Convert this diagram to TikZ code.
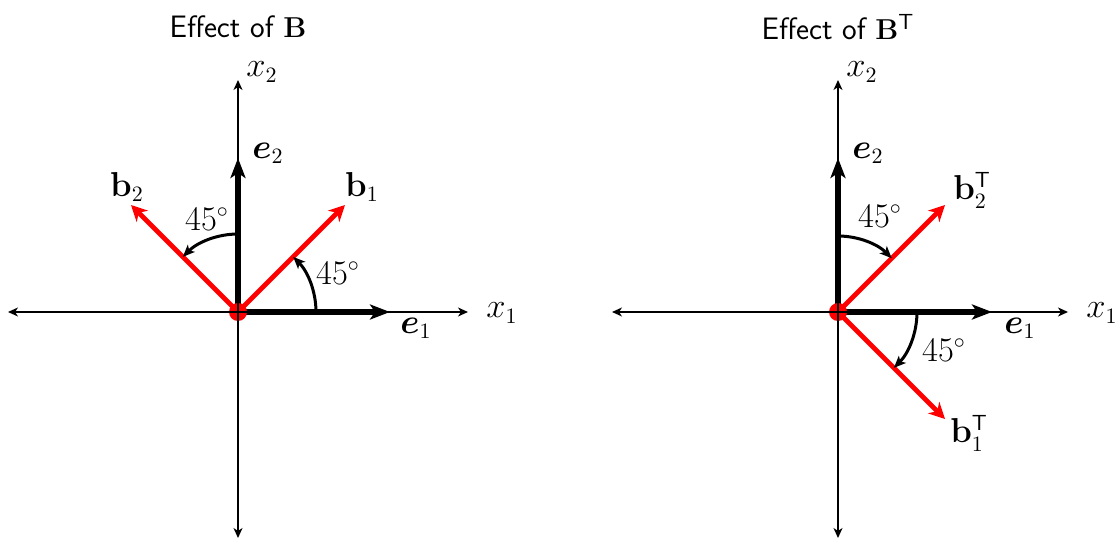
\documentclass[tikz,border=0pt]{standalone}
\usepackage{bm}
\usetikzlibrary{arrows.meta}
\begin{document}
\begin{tikzpicture}[x=0.5pt,y=-0.5pt,
  axis/.style={line width=0.75pt,{Stealth[length=5pt,width=4.5pt,inset=1.5pt]}-{Stealth[length=5pt,width=4.5pt,inset=1.5pt]}},
  evec/.style={line width=2.8pt,-{Stealth[length=10pt,width=7.5pt,inset=2.5pt]}},
  bvec/.style={line width=2.4pt,red,-{Stealth[length=8pt,width=8pt,inset=2.5pt]}},
  angarc/.style={line width=1.5pt,-{Stealth[length=6pt,width=5pt,inset=1.5pt]}},
  origin/.style={red},
  lbl/.style={font=\fontsize{16}{19}\selectfont},
  ttl/.style={font=\fontsize{15.5}{19}\selectfont\sffamily},
  every node/.style={inner sep=1pt}]
\useasboundingbox (0,0) rectangle (1117,539);
% titles
\node[ttl] (t1) at (238,27) {Effect of $\mathbf{B}$};
\node[ttl] (t2) at (838,27) {Effect of $\mathbf{B}^{\mathsf{T}}$};
%%%% left panel
\coordinate (O1) at (238,312);
\coordinate (xl1) at (8,312); \coordinate (xr1) at (468,312);
\coordinate (yb1) at (238,538); \coordinate (yt1) at (238,80);
\coordinate (e1L) at (390,312); \coordinate (e2L) at (238,158);
\coordinate (b1L) at (345,205); \coordinate (b2L) at (131,205);
\draw[bvec] (O1) -- (b1L);
\draw[bvec] (O1) -- (b2L);
\draw[evec] (O1) -- (e1L);
\draw[evec] (O1) -- (e2L);
\fill[origin] (O1) circle (4.5pt);
\draw[axis] (xl1) -- (xr1);
\draw[axis] (yb1) -- (yt1);
\draw[angarc] ([xshift=39pt]O1) arc[start angle=0,end angle=45,radius=39pt];
\draw[angarc] ([yshift=39pt]O1) arc[start angle=90,end angle=135,radius=39pt];
\node[lbl] (a1) at (338,273) {$45^\circ$};
\node[lbl] (a2) at (207,219) {$45^\circ$};
\node[lbl] (x2L) at (262,72) {$x_2$};
\node[lbl] (x1L) at (502,313) {$x_1$};
\node[lbl] (e2Ll) at (268,153) {$\bm{e}_2$};
\node[lbl] (e1Ll) at (416,328) {$\bm{e}_1$};
\node[lbl] (b1Ll) at (362,187) {$\mathbf{b}_1$};
\node[lbl] (b2Ll) at (127,187) {$\mathbf{b}_2$};
%%%% right panel
\coordinate (O2) at (838,312);
\coordinate (xl2) at (612,312); \coordinate (xr2) at (1068,312);
\coordinate (yb2) at (838,538); \coordinate (yt2) at (838,80);
\coordinate (e1R) at (992,312); \coordinate (e2R) at (838,158);
\coordinate (b2R) at (945,205); \coordinate (b1R) at (945,419);
\draw[bvec] (O2) -- (b2R);
\draw[bvec] (O2) -- (b1R);
\draw[evec] (O2) -- (e1R);
\draw[evec] (O2) -- (e2R);
\fill[origin] (O2) circle (4.5pt);
\draw[axis] (xl2) -- (xr2);
\draw[axis] (yb2) -- (yt2);
\draw[angarc] ([yshift=38pt]O2) arc[start angle=90,end angle=45,radius=38pt];
\draw[angarc] ([xshift=39.5pt]O2) arc[start angle=0,end angle=-45,radius=39.5pt];
\node[lbl] (a3) at (880,216) {$45^\circ$};
\node[lbl] (a4) at (944,350) {$45^\circ$};
\node[lbl] (x2R) at (862,72) {$x_2$};
\node[lbl] (x1R) at (1102,313) {$x_1$};
\node[lbl] (e2Rl) at (868,153) {$\bm{e}_2$};
\node[lbl] (e1Rl) at (1020,328) {$\bm{e}_1$};
\node[lbl] (b2Rl) at (972,190) {$\mathbf{b}_2^{\mathsf{T}}$};
\node[lbl] (b1Rl) at (969,433) {$\mathbf{b}_1^{\mathsf{T}}$};
\end{tikzpicture}
\end{document}
